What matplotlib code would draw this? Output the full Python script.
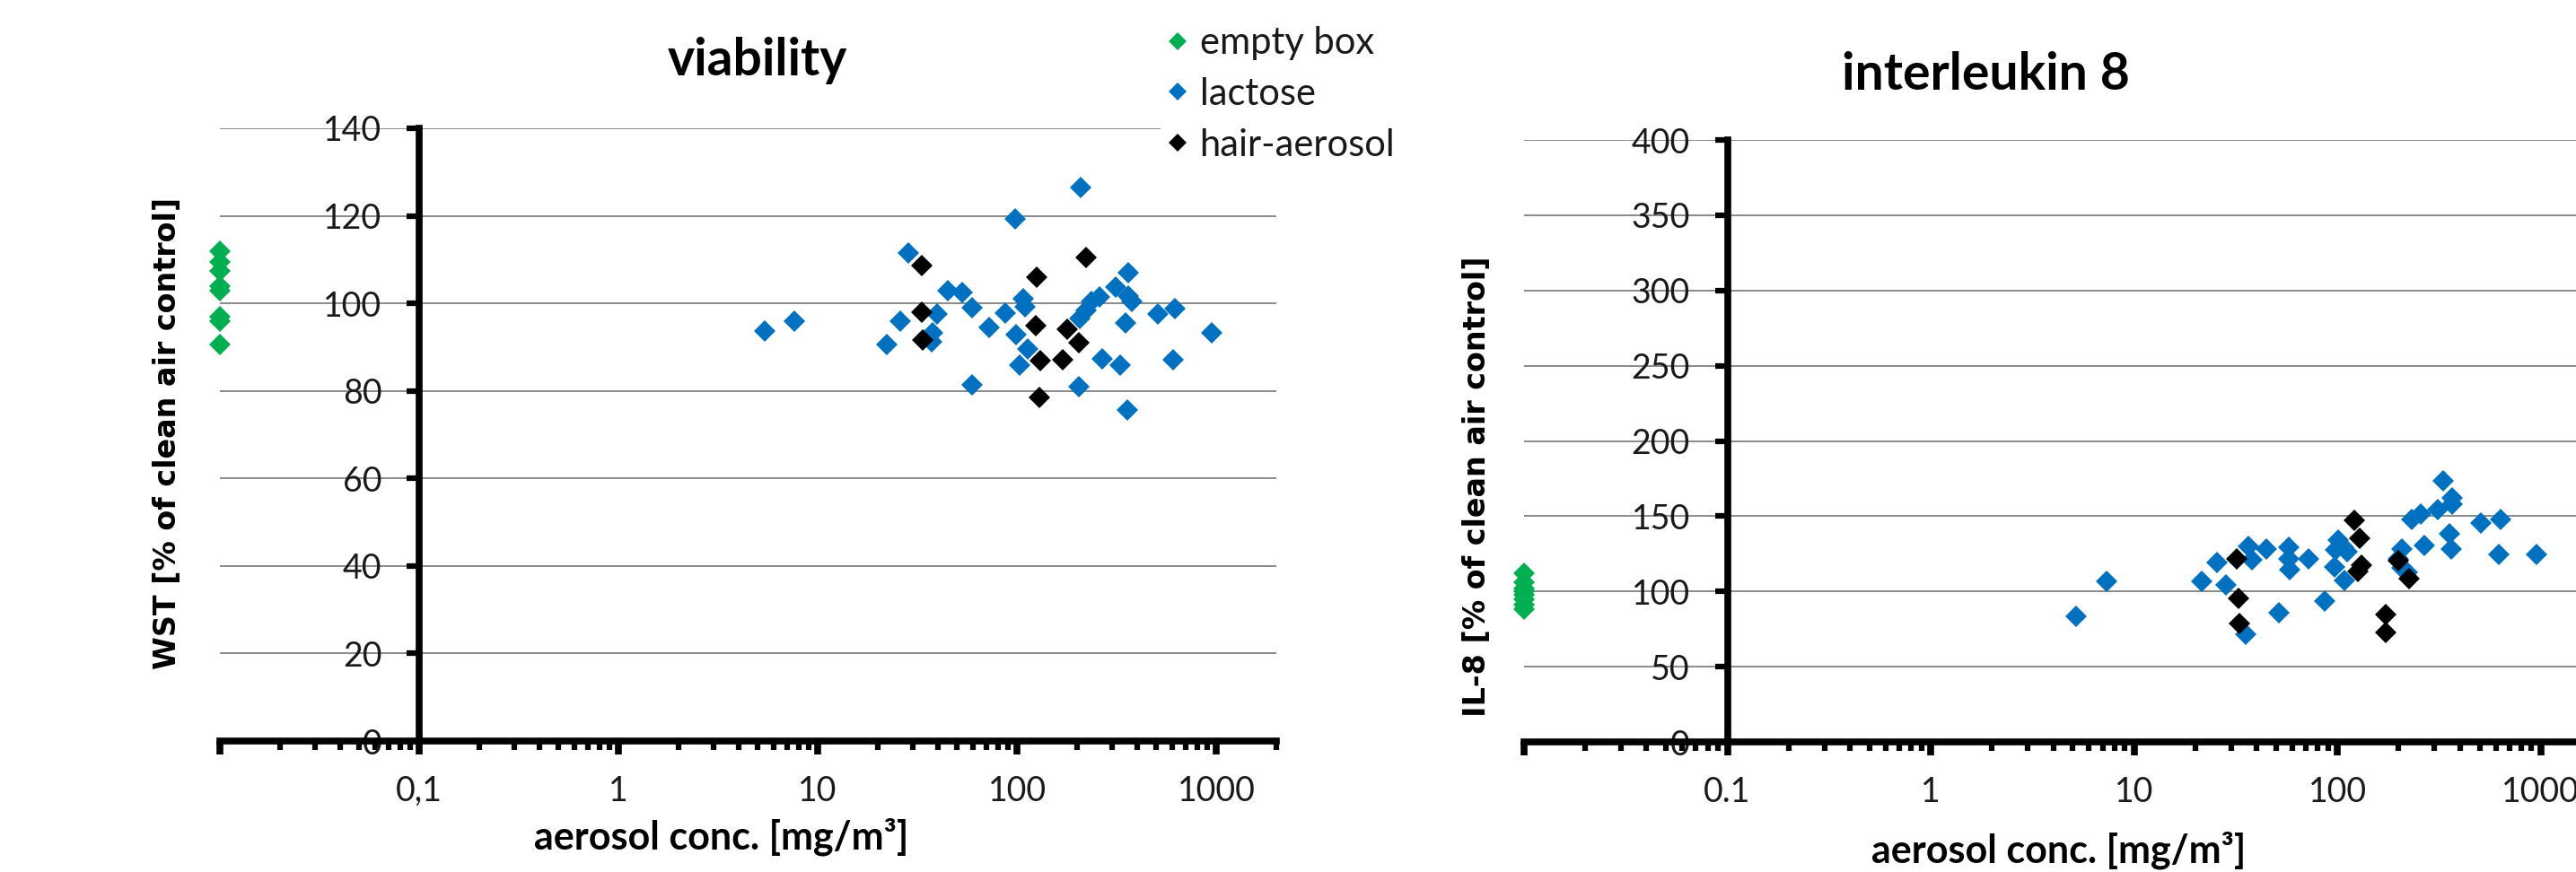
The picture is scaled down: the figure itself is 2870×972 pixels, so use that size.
import matplotlib.pyplot as plt
from matplotlib.ticker import FixedLocator, FixedFormatter, LogLocator, NullFormatter

plt.rcParams['font.family'] = 'Lato'

# ---- viability (WST) ----
wst_empty_y = [112, 109.5, 107.5, 104, 103, 97, 96, 90.5]
wst_lac_x = [5.4, 7.6, 22.2, 25.9, 28.5, 37.7, 39.6, 37.3, 45.1, 52.8, 59.2, 59.2, 72.5, 87.7,
             98, 98.5, 102.6, 107, 110, 113, 209, 204.6, 207.4, 222, 237, 258, 267, 313,
             330, 352, 362, 362, 375, 359, 508, 622, 609, 944]
wst_lac_y = [93.7, 96.0, 90.5, 96.0, 111.5, 93.3, 97.5, 91.2, 102.9, 102.4, 99.0, 81.3, 94.4, 97.8,
             119.3, 92.8, 85.9, 101.1, 99.2, 89.6, 126.4, 80.9, 96.6, 98.3, 100.4, 101.5, 87.4, 103.8,
             85.9, 95.5, 106.9, 101.7, 100.4, 75.6, 97.5, 98.7, 87.2, 93.3]
wst_hair_x = [33.4, 33.1, 33.5, 125.8, 123.7, 131, 129, 169, 178, 204, 223]
wst_hair_y = [108.6, 97.9, 91.6, 105.9, 94.9, 86.9, 78.5, 87.1, 94.1, 91.0, 110.5]

# ---- interleukin 8 ----
il8_empty_y = [112, 106, 102, 100, 98, 95, 91, 88]
il8_lac_x = [5.19, 7.3, 21.6, 25.5, 28.4, 35.2, 36.6, 38.1, 44.6, 51.4, 57.9, 57.9, 58.4, 72.1,
             86.4, 97.3, 100.7, 96.3, 106.6, 112, 108.5, 207, 200, 207, 221, 233, 258, 267,
             311, 331, 368, 368, 356, 362, 506, 634, 620, 953]
il8_lac_y = [83.3, 106.9, 106.9, 119.0, 104.5, 71.7, 129.8, 121.0, 128.4, 86.0, 129.4, 121.4, 114.5, 121.4,
             93.6, 127.4, 134.3, 116.4, 129.4, 126.4, 107.5, 128.4, 121.4, 115.5, 112.5, 147.6, 151.6, 130.4,
             154.2, 173.5, 162.1, 158.2, 138.3, 128.4, 145.6, 147.6, 124.4, 124.4]
il8_hair_x = [31.9, 32.5, 32.8, 121, 128, 131, 126, 173, 172, 224, 200]
il8_hair_y = [121.8, 95.6, 78.7, 147.2, 135.3, 117.4, 113.5, 84.7, 72.7, 108.5, 120.4]

empty_x = 0.01   # empty box plotted at the left end of the axis
x_major = [0.01, 0.1, 1, 10, 100, 1000]
x_labels_left = ['', '0,1', '1', '10', '100', '1000']
x_labels_right = ['', '0.1', '1', '10', '100', '1000']

GREEN = '#00B050'
BLUE = '#0070C0'
ms = 12.5


def style_axes(ax, ymax, ystep, xlabels):
    ax.set_xscale('log')
    ax.set_xlim(0.01, 2000)
    ax.set_ylim(0, ymax)
    ax.xaxis.set_major_locator(FixedLocator(x_major))
    ax.xaxis.set_major_formatter(FixedFormatter(xlabels))
    ax.xaxis.set_minor_locator(LogLocator(base=10, subs=range(2, 10), numticks=20))
    ax.xaxis.set_minor_formatter(NullFormatter())
    ax.set_yticks(range(0, ymax + 1, ystep))
    ax.spines['left'].set_position(('data', 0.1))
    ax.spines['right'].set_visible(False)
    ax.spines['top'].set_visible(False)
    ax.spines['left'].set_linewidth(5.5)
    ax.spines['bottom'].set_linewidth(5.5)
    ax.tick_params(axis='y', which='major', direction='out', length=10, width=4.5,
                   labelsize=27, pad=20, colors='black', labelcolor='#1a1a1a')
    ax.tick_params(axis='x', which='major', direction='out', length=11, width=5.5,
                   labelsize=27, pad=16, labelcolor='#1a1a1a')
    ax.tick_params(axis='x', which='minor', direction='out', length=7, width=4.5)
    ax.grid(True, axis='y', color='#8a8a8a', linewidth=1.4)
    ax.set_axisbelow(True)


fig = plt.figure(figsize=(28.7, 9.72), dpi=100)

ax1 = fig.add_axes([245 / 2870, 146 / 972, 1177 / 2870, 683 / 972])
ax1.plot([empty_x] * len(wst_empty_y), wst_empty_y, 'D', color=GREEN, ms=ms, mew=0,
         label='empty box', clip_on=False)
ax1.plot(wst_lac_x, wst_lac_y, 'D', color=BLUE, ms=ms, mew=0, label='lactose', clip_on=False)
ax1.plot(wst_hair_x, wst_hair_y, 'D', color='black', ms=ms, mew=0, label='hair-aerosol', clip_on=False)
style_axes(ax1, 140, 20, x_labels_left)

ax2 = fig.add_axes([1698 / 2870, 145 / 972, 1201 / 2870, 671 / 972])
ax2.plot([empty_x] * len(il8_empty_y), il8_empty_y, 'D', color=GREEN, ms=ms, mew=0, clip_on=False)
ax2.plot(il8_lac_x, il8_lac_y, 'D', color=BLUE, ms=ms, mew=0, clip_on=False)
ax2.plot(il8_hair_x, il8_hair_y, 'D', color='black', ms=ms, mew=0, clip_on=False)
style_axes(ax2, 400, 50, x_labels_right)

# titles and axis labels
fig.text(844 / 2870, 1 - 68 / 972, 'viability', ha='center', va='center', fontsize=41, fontweight='bold')
fig.text(2212 / 2870, 1 - 84 / 972, 'interleukin 8', ha='center', va='center', fontsize=41, fontweight='bold')
fig.text(187 / 2870, 1 - 483 / 972, 'WST [% of clean air control]', rotation=90, ha='center', va='center',
         fontsize=24, fontweight='bold', family='DejaVu Sans')
fig.text(1646 / 2870, 1 - 542 / 972, 'IL-8 [% of clean air control]', rotation=90, ha='center', va='center',
         fontsize=24, fontweight='bold', family='DejaVu Sans')
fig.text(804 / 2870, 1 - 933 / 972, 'aerosol conc. [mg/m³]', ha='center', va='center', fontsize=31, fontweight='bold')
fig.text(2294 / 2870, 1 - 948 / 972, 'aerosol conc. [mg/m³]', ha='center', va='center', fontsize=31, fontweight='bold')

leg = ax1.legend(loc='upper left', bbox_to_anchor=(1272 / 2870, 1.0), bbox_transform=fig.transFigure,
                 fontsize=30, frameon=True, facecolor='white', edgecolor='none', framealpha=1,
                 handlelength=0.5, handletextpad=0.35, labelspacing=0.45, borderpad=0.2, markerscale=0.8)
for t in leg.get_texts():
    t.set_color('#1a1a1a')

fig.savefig('out.png', dpi=100)
